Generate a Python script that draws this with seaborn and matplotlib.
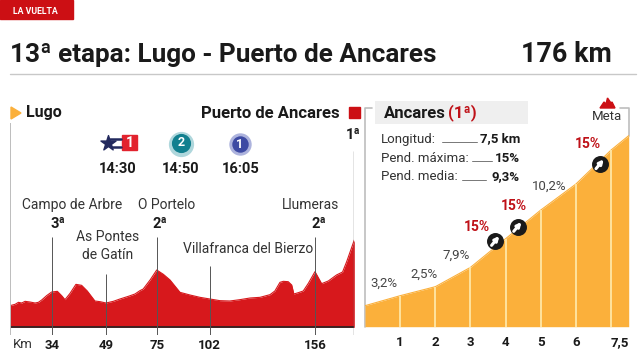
import matplotlib
matplotlib.use('Agg')
import matplotlib.pyplot as plt
import matplotlib.patches as mpatches
import numpy as np
import seaborn as sns

stage_km = [0, 2.6, 4.3, 6, 7.7, 10.2, 12.8, 14.5, 16.2, 18.7, 21.3, 24.2, 26.4, 28.1, 30.7, 33.7, 36.6, 39.5,
            43.4, 46, 49.1, 52.8, 56.2, 60.5, 63.9, 66.4, 68.1, 71.6, 75, 78.4, 81.8, 86.9, 92, 97.1, 102.2,
            107.3, 112.4, 117.5, 122.7, 127.8, 132.9, 135.4, 138, 139.7, 142.2, 144, 145.1, 147.4, 149.9,
            152.5, 155.9, 159.3, 162.7, 166.9, 170, 172.1, 176]
stage_elev = [325, 345, 375, 365, 390, 380, 365, 375, 410, 475, 530, 540, 475, 415, 510, 645, 630, 545,
              395, 385, 365, 390, 425, 465, 500, 550, 575, 710, 860, 795, 710, 525, 485, 450, 425,
              400, 395, 415, 440, 450, 490, 545, 675, 690, 685, 635, 500, 520, 545, 660, 835, 655, 695,
              785, 830, 985, 1310]
# the printed 34 sits at this spot on the drawn profile
tick_pos = [21.5, 49, 75, 102, 156]
tick_labels = ['34', '49', '75', '102', '156']
tick_tops = [1360, 800, 1360, 925, 1360]

climb_km = [0, 1, 2, 3, 4, 5, 6, 7, 7.5]
climb_elev = [63, 93, 120, 178, 264, 350, 428, 530, 573]
climb_ticks = [1, 2, 3, 4, 5, 6, 7.5]
climb_tick_labels = ['1', '2', '3', '4', '5', '6', '7,5']
grade_labels = ['3,2%', '2,5%', '7,9%', '10,2%']
grade_x = [0.54, 1.68, 2.59, 5.23]
grade_y = [131, 158, 215, 422]
steep_km = [3.71, 4.34, 6.68]
steep_elev = [258, 300, 488]
steep_offsets = [(-13.5, 9.5), (-3, 15), (-8.5, 14.5)]

RED = '#d7181c'
ORANGE = '#fbb03b'
INK = '#1a1a1a'
GREY = '#bdbdbd'

sns.set_style('white')
plt.rcParams['font.family'] = ['Roboto', 'DejaVu Sans']

W, H = 644, 362
fig = plt.figure(figsize=(W / 100, H / 100), dpi=100)


def px_axes(x0, y0, x1, y1, **kw):
    return fig.add_axes([x0 / W, 1 - y1 / H, (x1 - x0) / W, (y1 - y0) / H], **kw)


page = px_axes(0, 0, W, H)
page.set_xlim(0, W)
page.set_ylim(H, 0)
page.axis('off')

# header
page.add_patch(mpatches.Rectangle((0, 0), 73, 19, color='#cc0f14'))
page.text(35, 11, 'LA VUELTA', color='white', fontsize=6.3, fontweight='bold', ha='center', va='center')
page.text(10, 55, '13ª etapa: Lugo - Puerto de Ancares', color=INK, fontsize=18.8, fontweight='bold', va='center')
page.text(521, 55, '176 km', color=INK, fontsize=19.4, fontweight='bold', va='center')
page.plot([10, 636], [74, 74], color='#c8c8c8', lw=1)

# left panel header
page.add_patch(mpatches.Polygon([(11, 107), (21, 113), (11, 119)], color=ORANGE))
page.text(26, 113, 'Lugo', color=INK, fontsize=11.5, fontweight='bold', va='center')
page.text(340, 113, 'Puerto de Ancares', color=INK, fontsize=12, fontweight='bold', va='center', ha='right')
page.add_patch(mpatches.Rectangle((349, 107), 11, 11, color='#cc0f14'))

# tv channels
page.add_patch(mpatches.Rectangle((122, 135), 15, 15, color='#e2232e'))
page.text(129.5, 143, '1', color='white', fontsize=10, fontweight='bold', ha='center', va='center')
page.scatter([108], [143], marker='*', s=130, color='#232a5e', zorder=3)
page.plot([110, 121], [139, 139], color='#232a5e', lw=1.8)
page.plot([112, 121], [147, 147], color='#232a5e', lw=1.8)
page.scatter([181], [144], s=330, color='#1a8d9c', alpha=0.35, lw=0)
page.scatter([181], [143], s=190, color='#12808f', lw=0)
page.text(181, 143, '2', color='white', fontsize=9, fontweight='bold', ha='center', va='center')
page.scatter([240], [144], s=260, color='#4a58b5', alpha=0.45, lw=0)
page.scatter([240], [144], s=140, color='#3d4aa3', lw=0)
page.text(240, 144, '1', color='white', fontsize=9, fontweight='bold', ha='center', va='center')
for xt, t in zip([118, 181, 241], ['14:30', '14:50', '16:05']):
    page.text(xt, 169, t, color=INK, fontsize=10.5, fontweight='bold', ha='center', va='center')

# stage profile
ax = px_axes(10, 120, 354.3, 335, facecolor='none')
ax.set_xlim(0, 176)
ax.set_ylim(-115, 3110)
sns.lineplot(x=stage_km, y=stage_elev, ax=ax, color=RED, lw=0.8, estimator=None)
ax.fill_between(stage_km, 0, stage_elev, color=RED, lw=0)
ax.axhline(0, color='#222222', lw=1.2)
ax.vlines(tick_pos, -115, tick_tops, color='#555555', lw=0.7)
ax.vlines([0], -115, 3065, color=GREY, lw=1.4)
ax.vlines([176], -115, 2650, color='#777777', lw=1)
ax.set_xticks(tick_pos)
ax.set_xticklabels(tick_labels, color=INK, fontsize=9.5, fontweight='bold')
ax.set_yticks([])
ax.tick_params(axis='x', length=0, pad=3)
sns.despine(ax=ax, left=True, bottom=True)

page.text(13, 345, 'Km', color='#333333', fontsize=9.5, va='center')
for xt, yt, t in [(72, 205, 'Campo de Arbre'), (167, 205, 'O Portelo'), (311, 205, 'Llumeras'),
                  (108, 237, 'As Pontes'), (108, 255, 'de Gatín'), (248, 249, 'Villafranca del Bierzo')]:
    page.text(xt, yt, t, color='#333333', fontsize=10, ha='center', va='center')
for xt, yt, t in [(58, 224, '3ª'), (160, 224, '2ª'), (319, 224, '2ª'), (353, 135, '1ª')]:
    page.text(xt, yt, t, color=INK, fontsize=10.5, fontweight='bold', ha='center', va='center')

# climb panel
cx = px_axes(365, 108, 628.7, 326.7, facecolor='none')
cx.set_xlim(0, 7.5)
cx.set_ylim(0, 656)
sns.lineplot(x=climb_km, y=climb_elev, ax=cx, color=ORANGE, lw=0.8, estimator=None)
cx.fill_between(climb_km, 0, climb_elev, color=ORANGE, lw=0)
cx.vlines(climb_km[1:-1], 0, np.array(climb_elev[1:-1]), color='#ffe7a6', lw=1.3)
cx.set_xticks(climb_ticks)
cx.set_xticklabels(climb_tick_labels, color=INK, fontsize=9.5, fontweight='bold')
cx.set_yticks([])
cx.tick_params(axis='x', length=0, pad=7)
cx.get_xticklabels()[-1].set_ha('right')
sns.despine(ax=cx, top=True, right=True, bottom=True, left=True)

for gx, gy, g in zip(grade_x, grade_y, grade_labels):
    cx.text(gx, gy, g, color='#444444', fontsize=9.5, ha='center', va='center')
for sx, sy, off in zip(steep_km, steep_elev, steep_offsets):
    cx.scatter([sx], [sy], s=125, color='#1a1a1a', zorder=4, clip_on=False)
    cx.annotate('', xy=(sx + 0.11, sy + 14), xytext=(sx - 0.11, sy - 14),
                arrowprops=dict(arrowstyle='-|>', color='white', lw=2.2, mutation_scale=6,
                                shrinkA=0, shrinkB=0), zorder=5)
    cx.annotate('15%', xy=(sx, sy), xytext=off, textcoords='offset points', color='#bf1118',
                fontsize=10, fontweight='bold', ha='center', va='center')

# climb frame and info box
page.plot([372, 365, 365], [108, 108, 327], color=GREY, lw=1.2)
page.plot([620, 629, 629], [108, 108, 136], color=GREY, lw=1.2)
page.add_patch(mpatches.Rectangle((375, 101), 153, 23, color='#efefef', lw=0))
page.text(384, 113, 'Ancares', color=INK, fontsize=12, fontweight='bold', va='center')
page.text(448, 113, '(1ª)', color='#bf1118', fontsize=12, fontweight='bold', va='center')
page.add_patch(mpatches.Polygon([(600, 108), (604, 102), (606, 104), (607.5, 98), (611, 103), (612, 102), (615, 108)],
                                color='#cc0f14'))
page.text(607, 117, 'Meta', color='#333333', fontsize=9.5, ha='center', va='center')
for yt, lab, val, x0, x1 in [(139, 'Longitud:', '7,5 km', 442, 477), (158, 'Pend. máxima:', '15%', 472, 492),
                             (177, 'Pend. media:', '9,3%', 462, 486)]:
    page.text(381, yt, lab, color='#333333', fontsize=9.5, va='center')
    page.text(520, yt, val, color=INK, fontsize=9.5, fontweight='bold', va='center', ha='right')
    page.plot([x0, x1], [yt + 3, yt + 3], color='#777777', lw=0.7)

fig.savefig('out.png', dpi=100)
